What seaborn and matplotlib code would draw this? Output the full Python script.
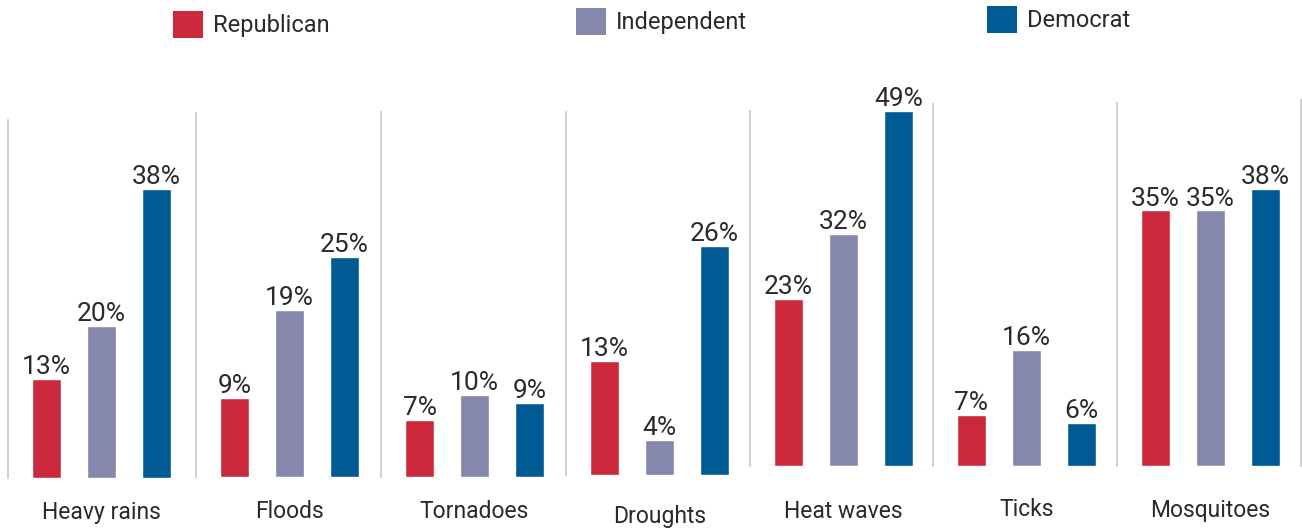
import matplotlib
matplotlib.use("Agg")
import matplotlib.pyplot as plt
import matplotlib.transforms as mtransforms
import seaborn as sns
import pandas as pd
from matplotlib.patches import Patch

categories = ["Heavy rains", "Floods", "Tornadoes", "Droughts", "Heat waves", "Ticks", "Mosquitoes"]
parties = ["Republican", "Independent", "Democrat"]
republican = [13, 9, 7, 13, 23, 7, 35]
independent = [20, 19, 10, 4, 32, 16, 35]
democrat = [38, 25, 9, 26, 49, 6, 38]
colors = ["#CC2A3C", "#8587AC", "#005A94"]

rows = []
for i, c in enumerate(categories):
    for p, vals in zip(parties, [republican, independent, democrat]):
        rows.append({"category": c, "party": p, "value": vals[i]})
df = pd.DataFrame(rows)

W, H = 1302, 531
sns.set_theme(style="white")
plt.rcParams["font.family"] = ["Roboto", "DejaVu Sans"]
WEIGHT = "normal"
TXT = "#2a2a2a"
fig = plt.figure(figsize=(W / 100, H / 100), dpi=100)

# layout (pixels)
sep_x = [8, 196, 381, 566, 750, 933, 1117, 1301]
base_y = [478, 477, 477, 475, 466, 466, 466]
sep_top = [120, 113, 112, 112, 111, 104, 103]
px_per_pct = [7.6, 8.8, 8.2, 8.8, 7.25, 7.25, 7.3]
label_y = [512, 512, 511, 516, 511, 509, 511]
top_px = 40
bar_step = 55
first_center = 38.5
bar_w = 29

for i, cat in enumerate(categories):
    x0, x1 = sep_x[i], sep_x[i + 1]
    b = base_y[i]
    ax = fig.add_axes([x0 / W, (H - b) / H, (x1 - x0) / W, (b - top_px) / H])
    sub = df[df["category"] == cat]
    sns.barplot(data=sub, x="party", y="value", hue="party", palette=colors,
                order=parties, hue_order=parties, width=bar_w / bar_step,
                saturation=1, legend=False, errorbar=None, ax=ax)
    ax.set_xlim(-first_center / bar_step, (x1 - x0 - first_center) / bar_step)
    ax.set_ylim(0, (b - top_px) / px_per_pct[i])
    ax.set_xticks([])
    ax.set_yticks([])
    ax.set_xlabel("")
    ax.set_ylabel("")
    ax.set_facecolor("none")
    for s in ["top", "bottom", "right"]:
        ax.spines[s].set_visible(False)
    ax.spines["left"].set_visible(True)
    ax.spines["left"].set_color("#cccccc")
    ax.spines["left"].set_linewidth(1.3)
    ax.spines["left"].set_bounds(0, (b - sep_top[i]) / px_per_pct[i])
    if i == len(categories) - 1:
        ax.spines["right"].set_visible(True)
        ax.spines["right"].set_color("#cccccc")
        ax.spines["right"].set_linewidth(1.3)
        ax.spines["right"].set_bounds(0, (b - 100) / px_per_pct[i])
    for cont in ax.containers:
        ax.bar_label(cont, fmt="{:.0f}%", padding=0, fontsize=19, color=TXT,
                     fontweight=WEIGHT)
    trans = mtransforms.blended_transform_factory(ax.transData, fig.transFigure)
    ax.text(1, 1 - label_y[i] / H, cat, transform=trans, ha="center", va="center",
            fontsize=16.5, color=TXT, fontweight=WEIGHT)

legend_pos = [(173, 11), (576, 8), (987, 6)]
for p, c, (lx, ly) in zip(parties, colors, legend_pos):
    fig.legend(handles=[Patch(facecolor=c, edgecolor="none", label=p)],
               loc="upper left", bbox_to_anchor=(lx / W, 1 - ly / H),
               frameon=False, borderpad=0, borderaxespad=0,
               handlelength=1.25, handleheight=1.4, handletextpad=0.45,
               prop={"size": 17, "weight": WEIGHT}, labelcolor=TXT)

fig.savefig("out.png", dpi=100)
